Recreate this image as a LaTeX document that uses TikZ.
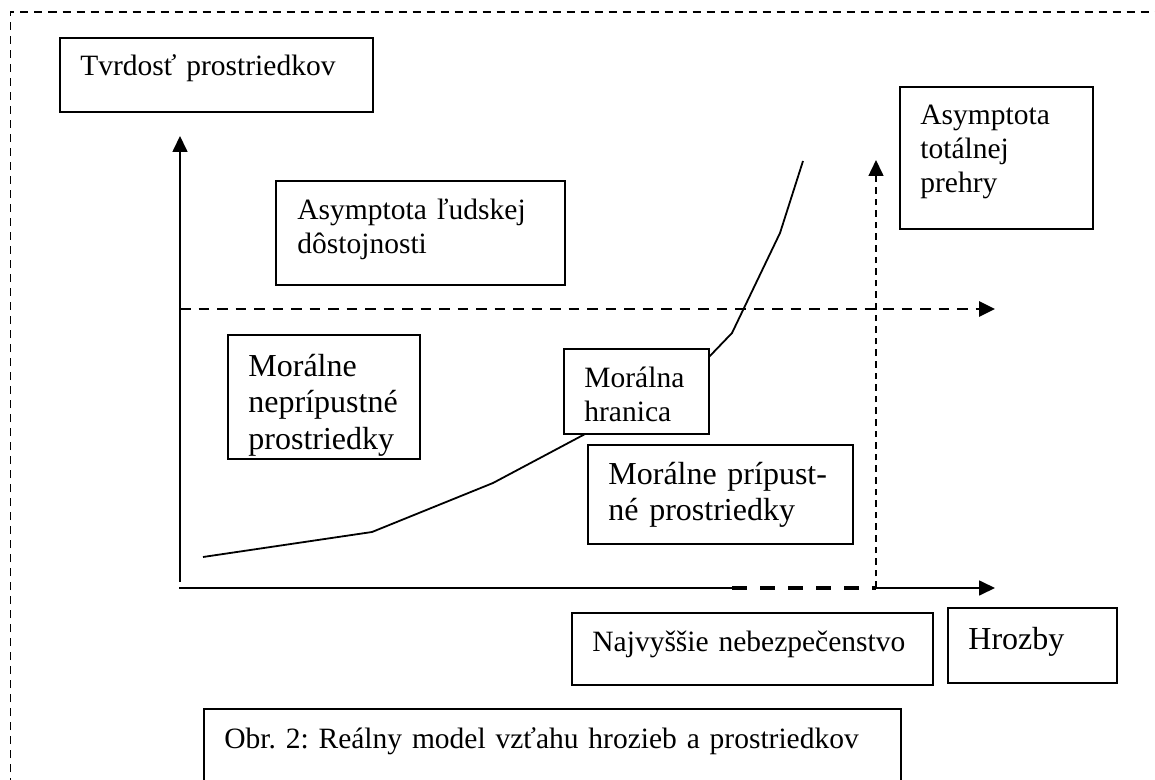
\documentclass[tikz,border=0pt]{standalone}
\usepackage{fontspec}
\setmainfont{Liberation Serif}
\usetikzlibrary{arrows.meta}
\frenchspacing
\begin{document}
\begin{tikzpicture}[x=0.5pt,y=-0.5pt,
  box/.style={draw, line width=0.85pt, fill=white, inner sep=0pt, anchor=north west},
  sm/.style={font=\fontsize{14.75}{17}\selectfont, anchor=base west, inner sep=0pt, align=left, text width=340pt},
  bg/.style={font=\fontsize{16}{18.25}\selectfont, anchor=base west, inner sep=0pt, align=left, text width=340pt},
  axis/.style={line width=0.85pt},
  tip/.style={-{Triangle[length=8pt,width=7.5pt]}},
  asymdash/.style={line width=1.3pt, dash pattern=on 5.25pt off 4pt},
  thindash/.style={line width=0.75pt, dash pattern=on 3.3pt off 2.5pt},
  bolddash/.style={line width=1.7pt, dash pattern=on 7.5pt off 6.5pt},
  framedash/.style={line width=0.75pt, dash pattern=on 4pt off 3pt},
  curve/.style={line width=0.9pt}
]
\useasboundingbox (0,0) rectangle (1155,780);
\clip (0,0) rectangle (1155,780);

% outer dashed frame
\coordinate (fbl) at (10.5,800);
\coordinate (ftl) at (10.5,12);
\coordinate (ftr) at (1160,12);
\draw[framedash] (fbl) -- (ftl) -- (ftr);

% axes
\coordinate (ybot) at (180,582);
\coordinate (ytop) at (180,136);
\coordinate (xo) at (179,588);
\coordinate (xd1) at (732,588);
\coordinate (xd2) at (876,588);
\coordinate (xend) at (995,588);
\draw[axis,tip] (ybot) -- (ytop);
\draw[axis] (xo) -- (xd1);
\draw[bolddash] (xd1) -- (xd2);
\draw[axis,tip] (xd2) -- (xend);

% asymptotes
\coordinate (hs) at (180,309);
\coordinate (he) at (995,309);
\draw[asymdash,tip] (hs) -- (he);
\coordinate (vtop) at (876,160);
\draw[thindash,tip] (xd2) -- (vtop);

% moral boundary curve
\draw[curve] (203,557) -- (372,532) -- (493,483) -- (587,433) -- (708,358) -- (732,333) -- (780,233) -- (803,161);

% boxes
\node[box, minimum width=156.5pt, minimum height=37pt] (tvrdost) at (59,37) {};
\node[sm] (tvrdostT) at (80,76) {Tvrdosť prostriedkov};

\node[box, minimum width=144.5pt, minimum height=52pt] (aludska) at (275,180) {};
\node[sm] (aludskaT) at (297,220) {Asymptota ľudskej\\dôstojnosti};

\node[box, minimum width=96.5pt, minimum height=71pt] (atotal) at (899,86) {};
\node[sm] (atotalT) at (920,125) {Asymptota\\totálnej\\prehry};

\node[box, minimum width=96pt, minimum height=62pt] (mneprip) at (227,334) {};
\node[bg] (mnepripT) at (248,376) {Morálne\\neprípustné\\prostriedky};

\node[box, minimum width=72.5pt, minimum height=42.5pt] (mhran) at (563,348) {};
\node[sm] (mhranT) at (584,387) {Morálna\\hranica};

\node[box, minimum width=132.5pt, minimum height=49.5pt] (mprip) at (587,444) {};
\node[bg] (mpripT) at (608,484) {Morálne prípust-\\né prostriedky};

\node[box, minimum width=180.5pt, minimum height=36pt] (najv) at (571,612) {};
\node[sm] (najvT) at (592,651) {Najvyššie nebezpečenstvo};

\node[box, minimum width=84.5pt, minimum height=37.5pt] (hrozby) at (947,607) {};
\node[bg] (hrozbyT) at (968,649) {Hrozby};

\node[box, minimum width=348.5pt, minimum height=50pt] (caption) at (203,708) {};
\node[sm] (captionT) at (224,748) {Obr. 2: Reálny model vzťahu hrozieb a prostriedkov};
\end{tikzpicture}
\end{document}
